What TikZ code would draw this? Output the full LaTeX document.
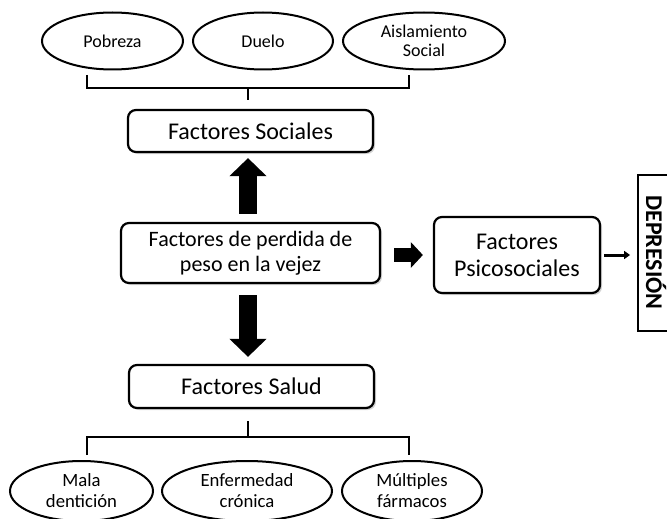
\documentclass[tikz,border=0pt]{standalone}
\usepackage{fontspec}
\setmainfont{Carlito}
\usetikzlibrary{shapes.geometric,arrows.meta,shadows}
\begin{document}
\begin{tikzpicture}[x=1pt,y=-1pt,
  oval/.style={ellipse,draw,line width=2pt,inner sep=0pt,align=center,font=\fontsize{18}{19}\selectfont},
  ovalb/.style={oval,font=\fontsize{18.7}{21}\selectfont},
  rbox/.style={draw,line width=2.2pt,rounded corners=8pt,fill=white,inner sep=0pt,align=center,
    font=\fontsize{24}{27}\selectfont,drop shadow={shadow xshift=2pt,shadow yshift=-2pt,opacity=0.35}},
  brk/.style={line width=2.6pt},
  bigarrow/.style={line width=18pt,-{Triangle[width=36pt,length=18pt]}},
  midarrow/.style={line width=14pt,-{Triangle[width=25pt,length=12pt]}},
  thinarrow/.style={line width=3pt,-{Triangle[width=8pt,length=6pt]}}]
\useasboundingbox (0,0) rectangle (667,519);
% top ovals
\node[oval,minimum width=141pt,minimum height=57pt] (pob) at (112.5,41) {Pobreza};
\node[oval,minimum width=140pt,minimum height=57pt] (due) at (263,41) {Duelo};
\node[oval,minimum width=162pt,minimum height=57pt] (ais) at (424,41) {Aislamiento\\Social};
% boxes
\node[rbox,minimum width=245pt,minimum height=42pt] (soc) at (250.5,131) {Factores Sociales};
\node[rbox,minimum width=259pt,minimum height=60pt,font=\fontsize{22}{25}\selectfont] (per) at (250.5,253) {Factores de perdida de\\peso en la vejez};
\node[rbox,minimum width=166pt,minimum height=76pt] (psi) at (517,255) {Factores\\Psicosociales};
\node[rbox,minimum width=245pt,minimum height=43pt] (sal) at (251.5,386.5) {Factores Salud};
\node[draw,line width=1.8pt,minimum width=40pt,minimum height=156pt,inner sep=0pt] (dep) at (658,253) {};
\node[rotate=-90,font=\fontsize{24}{26}\selectfont\bfseries] (deptxt) at (656,252.5) {DEPRESIÓN};
% bottom ovals
\node[ovalb,minimum width=143pt,minimum height=60pt] (mal) at (81.5,491) {Mala\\dentición};
\node[ovalb,minimum width=170pt,minimum height=60pt] (enf) at (247,491) {Enfermedad\\crónica};
\node[ovalb,minimum width=140pt,minimum height=60pt] (mul) at (412,491) {Múltiples\\fármacos};
% top bracket
\coordinate (t1) at (87,75);
\coordinate (t2) at (409,75);
\coordinate (tm) at (248,88);
\draw[brk] (t1) -- (87,88) -- (409,88) -- (t2);
\draw[brk] (tm) -- (248,100);
% bottom bracket
\coordinate (b1) at (87,455);
\coordinate (b2) at (409,455);
\coordinate (bm) at (248,437);
\draw[brk] (b1) -- (87,437) -- (409,437) -- (b2);
\draw[brk] (bm) -- (248,421);
% arrows
\draw[bigarrow,shorten <=8pt,shorten >=5pt] (per.north -| 248,0) -- (soc.south -| 248,0);
\draw[bigarrow,shorten <=11pt,shorten >=7pt] (per.south -| 248,0) -- (sal.north -| 248,0);
\draw[midarrow,shorten <=13pt,shorten >=10pt] (per.east |- 0,255) -- (psi.west);
\draw[thinarrow,shorten <=3pt,shorten >=7pt] (psi.east) -- (dep.west |- psi.east);
\end{tikzpicture}
\end{document}
